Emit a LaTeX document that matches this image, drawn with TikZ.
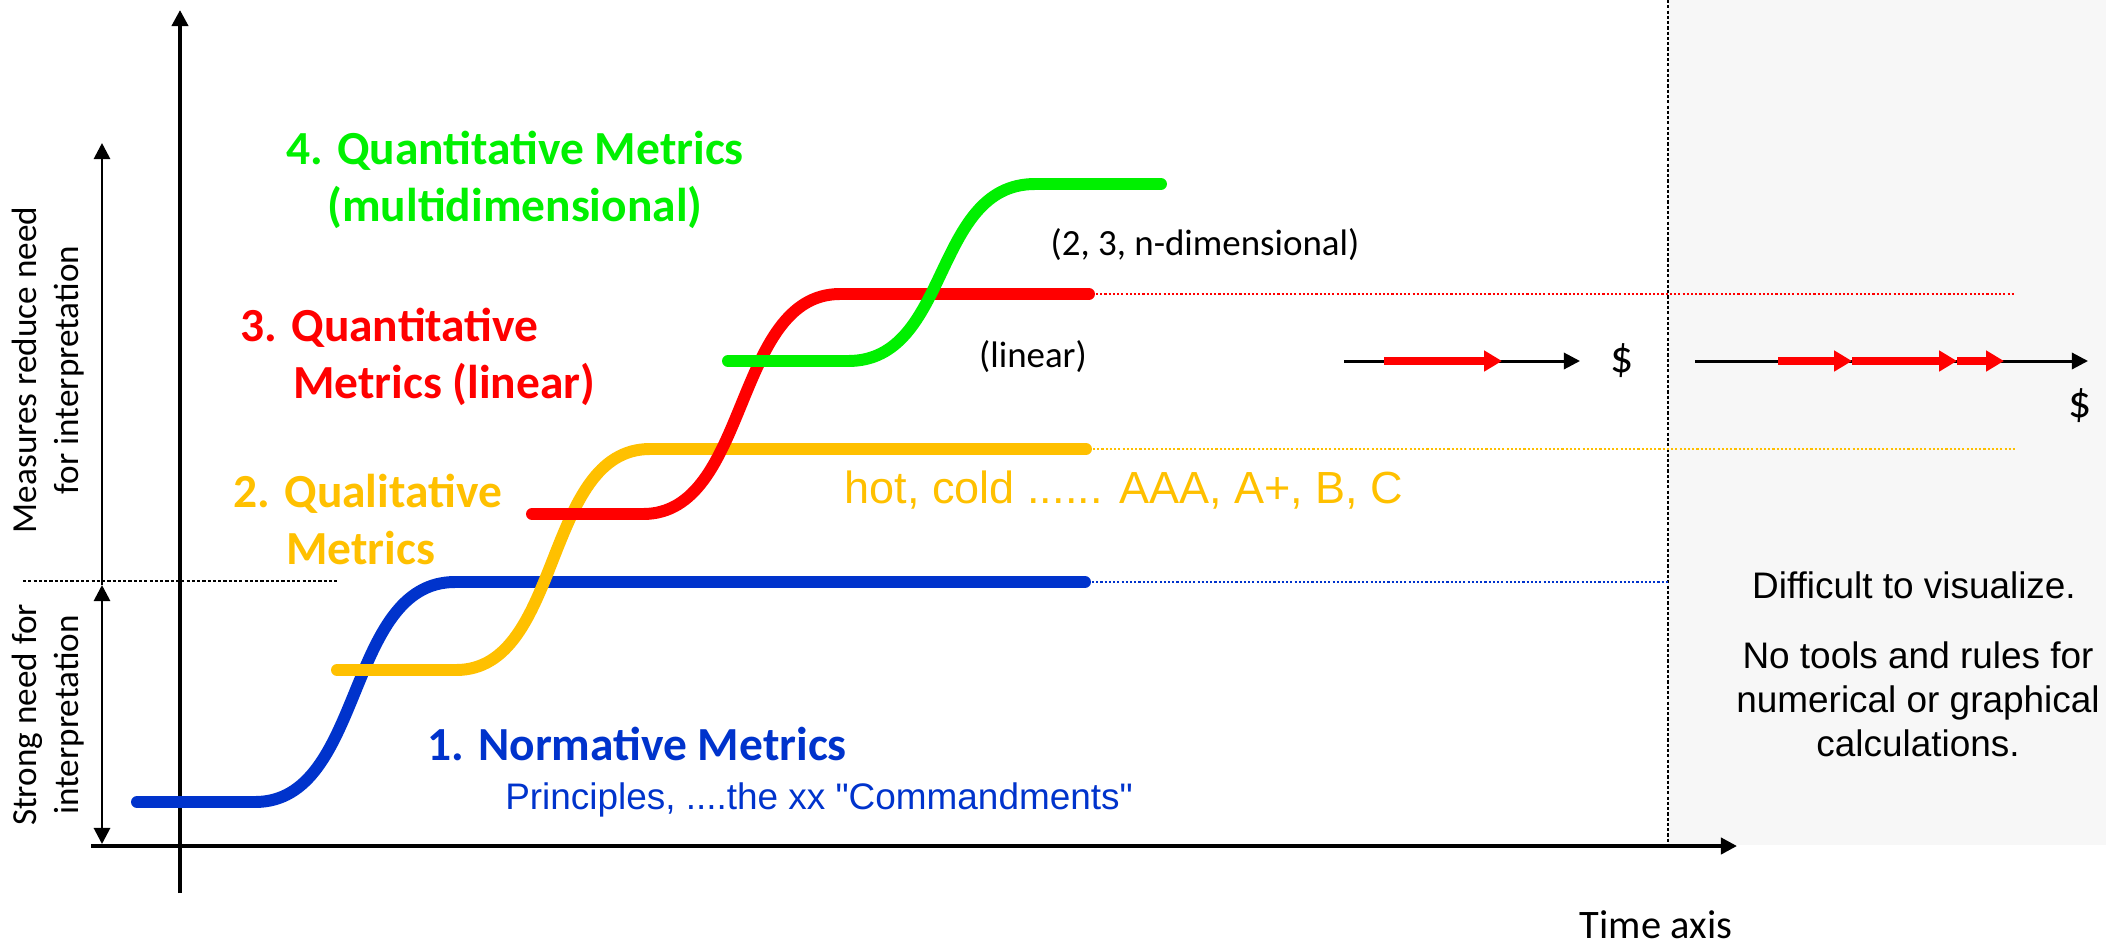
\documentclass[tikz,border=0pt]{standalone}
\usepackage{fontspec}
\setmainfont{Liberation Sans}[Ligatures=TeXOff]
\newfontfamily\calib{Carlito}
\usetikzlibrary{arrows.meta}
\usetikzlibrary{positioning}

\definecolor{normblue}{RGB}{0,51,204}
\definecolor{qualyellow}{RGB}{255,192,0}
\definecolor{linred}{RGB}{255,0,0}
\definecolor{multigreen}{RGB}{0,240,0}
\definecolor{hardgray}{RGB}{247,247,247}

\begin{document}
\begin{tikzpicture}[x=0.01cm, y=-0.01cm]
      \tikzset{
        >={Triangle[length=4.6pt,width=4.6pt]},
        axis/.style={line width=1.1pt, ->},
        span/.style={line width=0.8pt},
        stair/.style={line width=3.4pt, line cap=round},
        trail/.style={line width=0.6pt, dash pattern=on 0.6pt off 0.6pt},
        border/.style={line width=0.6pt, dash pattern=on 0.9pt off 0.6pt},
        gain/.style={linred, line width=2.3pt, -{Triangle[length=5.1pt,width=5.7pt]}},
        flow/.style={line width=0.85pt, ->},
        title/.style={font=\calib\bfseries\fontsize{13.5}{16.2}\selectfont},
        note/.style={font=\calib\fontsize{10.5}{12.5}\selectfont},
        side/.style={font=\calib\fontsize{10}{12}\selectfont, align=center, rotate=90},
        plain/.style={font=\fontsize{10.5}{12.5}\selectfont, align=center},
      }
      \useasboundingbox (0,0) rectangle (2121,945);

      % region without tools
      \fill[hardgray] (1668,0) rectangle (2106,845);
      \draw[border] (1668,0) -- (1668,846);

      % axes
      \coordinate (origin) at (180,893);
      \coordinate (ytop) at (180,10);
      \coordinate (xleft) at (91,846);
      \coordinate (xright) at (1737,846);
      \draw[axis] (origin) -- (ytop);
      \draw[axis] (xleft) -- (xright);
      \node[note, font=\calib\fontsize{11.5}{13}\selectfont] (time) at (1656,925) {Time axis};

      % need for interpretation
      \coordinate (needtop) at (102,143);
      \coordinate (needmid) at (102,585);
      \coordinate (needlow) at (102,844);
      \draw[border] (23,581) -- (337,581);
      \draw[span, ->] (needmid) -- (needtop);
      \draw[span, <->] (needmid) -- (needlow);
      \node[side] (reduce) at (48,370) {Measures reduce need\\for interpretation};
      \node[side] (strong) at (48,715) {Strong need for\\interpretation};

      % the four steps
      \draw[stair, normblue] (137,802) -- (255,802)
        .. controls (365,802) and (345,582) .. (455,582) -- (1085,582);
      \draw[trail, normblue] (1092,582) -- (1668,582);
      \draw[stair, qualyellow] (337,670) -- (456,670)
        .. controls (563,670) and (543,449) .. (650,449) -- (1086,449);
      \draw[trail, qualyellow] (1093,449) -- (2015,449);
      \draw[stair, linred] (532,514) -- (643,514)
        .. controls (750,514) and (733,294) .. (840,294) -- (1089,294);
      \draw[trail, linred] (1096,294) -- (2015,294);
      \draw[stair, multigreen] (728,361) -- (848,361)
        .. controls (951,361) and (932,184) .. (1035,184) -- (1161,184);

      % labels
      \node[title, text=multigreen, align=center] (multi) at (515,180) {4. Quantitative Metrics\\(multidimensional)};
      \node[title, text=linred, align=left, anchor=west] (linear) at (228,357) {3. Quantitative\\\hspace*{15pt}Metrics (linear)};
      \node[title, text=qualyellow, align=left, anchor=west] (quali) at (221,519) {2. Qualitative\\\hspace*{15pt}Metrics};
      \node[title, text=normblue] (norm) at (637,744) {1. Normative Metrics};
      \node[plain, text=normblue] (commands) at (819,800) {Principles, ....the xx "Commandments"};
      \node[plain, text=qualyellow, font=\fontsize{12.8}{15}\selectfont] (hotcold) at (1124,490) {hot, cold ...... AAA, A+, B, C};
      \node[note] (ndim) at (1205,245) {(2, 3, n-dimensional)};
      \node[note] (lin) at (1033,357) {(linear)};

      % money flows
      \coordinate (oneA) at (1344,361);
      \coordinate (oneB) at (1580,361);
      \coordinate (oneR) at (1384,361);
      \coordinate (oneS) at (1502,361);
      \draw[flow] (oneA) -- (oneB);
      \draw[gain] (oneR) -- (oneS);
      \node[note, font=\calib\fontsize{13}{15}\selectfont, right=0.18cm of oneB] (dollarA) {\$};

      \coordinate (twoA) at (1695,361);
      \coordinate (twoB) at (2088,361);
      \coordinate (twoR) at (1778,361);
      \coordinate (twoS) at (1852,361);
      \coordinate (twoT) at (1957,361);
      \coordinate (twoU) at (2004,361);
      \draw[flow] (twoA) -- (twoB);
      \draw[gain] (twoR) -- (twoS);
      \draw[gain] (twoS) -- (twoT);
      \draw[gain] (twoT) -- (twoU);
      \node[note, font=\calib\fontsize{13}{15}\selectfont, below=0.15cm of twoB, xshift=-0.08cm] (dollarB) {\$};

      % what is hard
      \node[plain] (hard) at (1914,585) {Difficult to visualize.};
      \node[plain] (notools) at (1918,699) {No tools and rules for\\numerical or graphical\\calculations.};
    \end{tikzpicture}
\end{document}
